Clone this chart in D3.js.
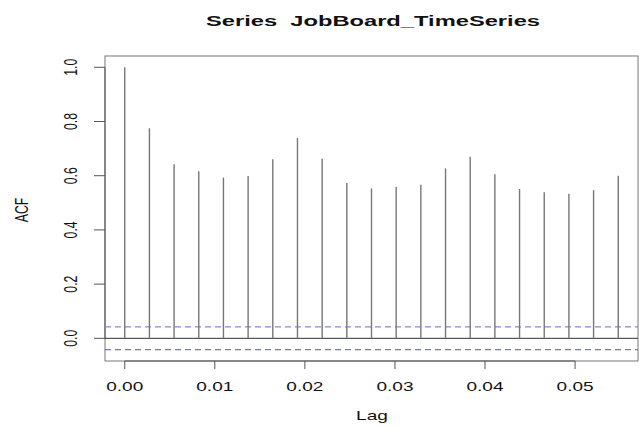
<!DOCTYPE html>
<html>
<head>
<meta charset="utf-8">
<script src="https://cdn.jsdelivr.net/npm/d3@7"></script>
<style>
  html, body { margin: 0; padding: 0; background: #fff; }
  svg { display: block; }
  text { font-family: "Liberation Sans", Arial, Helvetica, sans-serif; fill: #111; white-space: pre; }
</style>
</head>
<body>
<svg id="chart" width="639" height="428"></svg>
<script>
// ---- data ----
const lagStep = 1 / 365;
const lagIndex = [0,1,2,3,4,5,6,7,8,9,10,11,12,13,14,15,16,17,18,19,20];
const acfValues = [1.000, 0.775, 0.642, 0.616, 0.593, 0.599, 0.661, 0.739, 0.663, 0.573, 0.553,
                   0.558, 0.567, 0.627, 0.670, 0.605, 0.551, 0.539, 0.533, 0.547, 0.600];
const ciLimit = 0.042;
const xTickValues = [0.00, 0.01, 0.02, 0.03, 0.04, 0.05];
const yTickValues = [0.0, 0.2, 0.4, 0.6, 0.8, 1.0];
const titleText = "Series  JobBoard_TimeSeries";
const xLabelText = "Lag";
const yLabelText = "ACF";

// ---- layout ----
const svg = d3.select("#chart");
const plotLeft = 105, plotRight = 638, plotTop = 56, plotBottom = 361;
const stretch = 1.55;   // horizontal text stretch of the reference
const fontSize = 12.3;

const lags = lagIndex.map(k => k * lagStep);
const xMin = d3.min(lags), xMax = d3.max(lags);
const xPad = (xMax - xMin) * 0.04;
const x = d3.scaleLinear().domain([xMin - xPad, xMax + xPad]).range([plotLeft, plotRight]);

const yLo = Math.min(-ciLimit, d3.min(acfValues)), yHi = Math.max(ciLimit, d3.max(acfValues));
const yPad = (yHi - yLo) * 0.04;
const y = d3.scaleLinear().domain([yLo - yPad, yHi + yPad]).range([plotBottom, plotTop]);

// box
svg.append("rect")
  .attr("x", plotLeft).attr("y", plotTop)
  .attr("width", plotRight - plotLeft).attr("height", plotBottom - plotTop)
  .attr("fill", "none").attr("stroke", "#777").attr("stroke-width", 1);

// x axis
const xAxisG = svg.append("g").attr("transform", `translate(0,${plotBottom})`);
xAxisG.append("line")
  .attr("x1", x(xTickValues[0])).attr("x2", x(xTickValues[xTickValues.length - 1]))
  .attr("y1", 0).attr("y2", 0).attr("stroke", "#555").attr("stroke-width", 1);
const xt = xAxisG.selectAll("g.tick").data(xTickValues).enter().append("g")
  .attr("transform", d => `translate(${x(d)},0)`);
xt.append("line").attr("y1", 0).attr("y2", 8).attr("stroke", "#555");
xt.append("text")
  .attr("transform", `translate(0,30) scale(${stretch},1)`)
  .attr("text-anchor", "middle").attr("font-size", fontSize)
  .text(d => d3.format(".2f")(d));

// y axis
const yAxisG = svg.append("g").attr("transform", `translate(${plotLeft},0)`);
yAxisG.append("line")
  .attr("y1", y(yTickValues[0])).attr("y2", y(yTickValues[yTickValues.length - 1]))
  .attr("x1", 0).attr("x2", 0).attr("stroke", "#555").attr("stroke-width", 1);
const yt = yAxisG.selectAll("g.tick").data(yTickValues).enter().append("g")
  .attr("transform", d => `translate(0,${y(d)})`);
yt.append("line").attr("x1", 0).attr("x2", -11).attr("stroke", "#555");
yt.append("text")
  .attr("transform", `translate(-28,0) scale(${stretch},1) rotate(-90)`)
  .attr("text-anchor", "middle").attr("font-size", fontSize)
  .text(d => d3.format(".1f")(d));

// zero line
svg.append("line")
  .attr("x1", plotLeft).attr("x2", plotRight)
  .attr("y1", y(0)).attr("y2", y(0))
  .attr("stroke", "#333").attr("stroke-width", 1);

// confidence lines
svg.append("line")
  .attr("x1", plotLeft).attr("x2", plotRight)
  .attr("y1", y(ciLimit)).attr("y2", y(ciLimit))
  .attr("stroke", "#8888d8").attr("stroke-width", 1.3).attr("stroke-dasharray", "6,4");
svg.append("line")
  .attr("x1", plotLeft).attr("x2", plotRight)
  .attr("y1", y(-ciLimit)).attr("y2", y(-ciLimit))
  .attr("stroke", "#5555bb").attr("stroke-width", 1).attr("stroke-dasharray", "6,4");

// ACF spikes
svg.append("g").selectAll("line").data(lagIndex).enter().append("line")
  .attr("x1", d => x(d * lagStep)).attr("x2", d => x(d * lagStep))
  .attr("y1", y(0)).attr("y2", (d, i) => y(acfValues[i]))
  .attr("stroke", "#777").attr("stroke-width", 1.4);

// title
svg.append("text")
  .attr("transform", `translate(373,26) scale(${stretch},1)`)
  .attr("text-anchor", "middle").attr("font-size", 15.3).attr("font-weight", "bold")
  .text(titleText);

// axis labels
svg.append("text")
  .attr("transform", `translate(372,420) scale(${stretch},1)`)
  .attr("text-anchor", "middle").attr("font-size", fontSize)
  .text(xLabelText);
svg.append("text")
  .attr("transform", `translate(28,210) scale(${stretch},1) rotate(-90)`)
  .attr("text-anchor", "middle").attr("font-size", fontSize)
  .text(yLabelText);
</script>
</body>
</html>
